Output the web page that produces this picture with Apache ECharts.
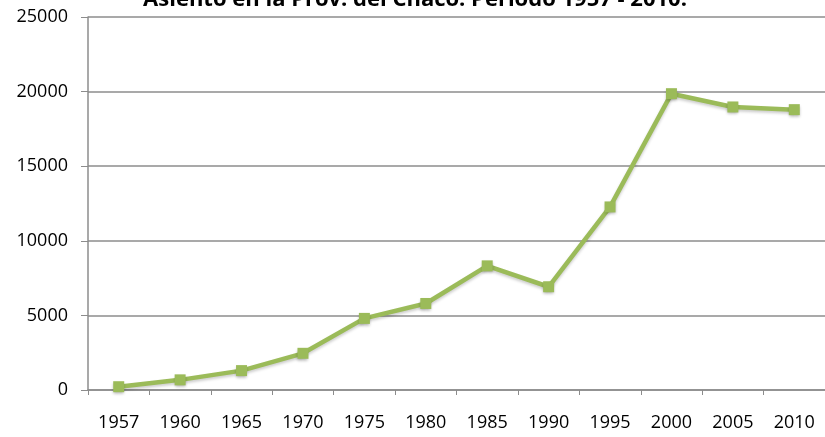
<!DOCTYPE html>
<html>
<head>
<meta charset="utf-8">
<script src="https://cdn.jsdelivr.net/npm/echarts@6/dist/echarts.min.js"></script>
<style>
  html, body { margin: 0; padding: 0; background: #fff; }
  #chart { width: 825px; height: 437px; }
</style>
</head>
<body>
<div id="chart"></div>
<script>
// años y valores
var years = ["1957", "1960", "1965", "1970", "1975", "1980", "1985", "1990", "1995", "2000", "2005", "2010"];
var values = [220, 680, 1300, 2460, 4800, 5800, 8320, 6920, 12270, 19860, 18970, 18790];
var yTicks = [0, 5000, 10000, 15000, 20000, 25000];

var chart = echarts.init(document.getElementById("chart"));
var option = {
  animation: false,
  title: {
    text: "Asiento en la Prov. del Chaco. Período 1957 - 2010.",
    left: 410,
    textAlign: "center",
    top: -16,
    textStyle: {
      fontFamily: "Open Sans",
      fontWeight: "bold",
      fontSize: 22,
      color: "#000"
    }
  },
  grid: { left: 88, right: 0, top: 17, bottom: 47, containLabel: false },
  xAxis: {
    type: "category",
    data: years,
    boundaryGap: true,
    axisLine: { lineStyle: { color: "#8c8c8c", width: 1.5 } },
    axisTick: { show: true, length: 5, alignWithLabel: false, lineStyle: { color: "#8c8c8c" } },
    axisLabel: { margin: 24, color: "#000", fontFamily: "Open Sans", fontSize: 18 }
  },
  yAxis: {
    type: "value",
    min: yTicks[0],
    max: yTicks[yTicks.length - 1],
    interval: 5000,
    axisLine: { show: true, lineStyle: { color: "#8c8c8c", width: 1.5 } },
    axisTick: { show: true, length: 7, lineStyle: { color: "#8c8c8c" } },
    axisLabel: {
      margin: 20, color: "#000", fontFamily: "Open Sans", fontSize: 18,
      formatter: function (v) { return String(v); }
    },
    splitLine: { show: true, lineStyle: { color: "#8c8c8c", width: 1.5 } }
  },
  series: [{
    type: "line",
    data: values,
    symbol: "rect",
    symbolSize: 11,
    lineStyle: {
      color: "#9bbb59",
      width: 4.5,
      shadowColor: "rgba(0,0,0,0.2)",
      shadowBlur: 3,
      shadowOffsetY: 2
    },
    itemStyle: {
      color: "#9bbb59",
      shadowColor: "rgba(0,0,0,0.3)",
      shadowBlur: 3,
      shadowOffsetY: 2
    }
  }]
};
chart.setOption(option);
</script>
</body>
</html>
